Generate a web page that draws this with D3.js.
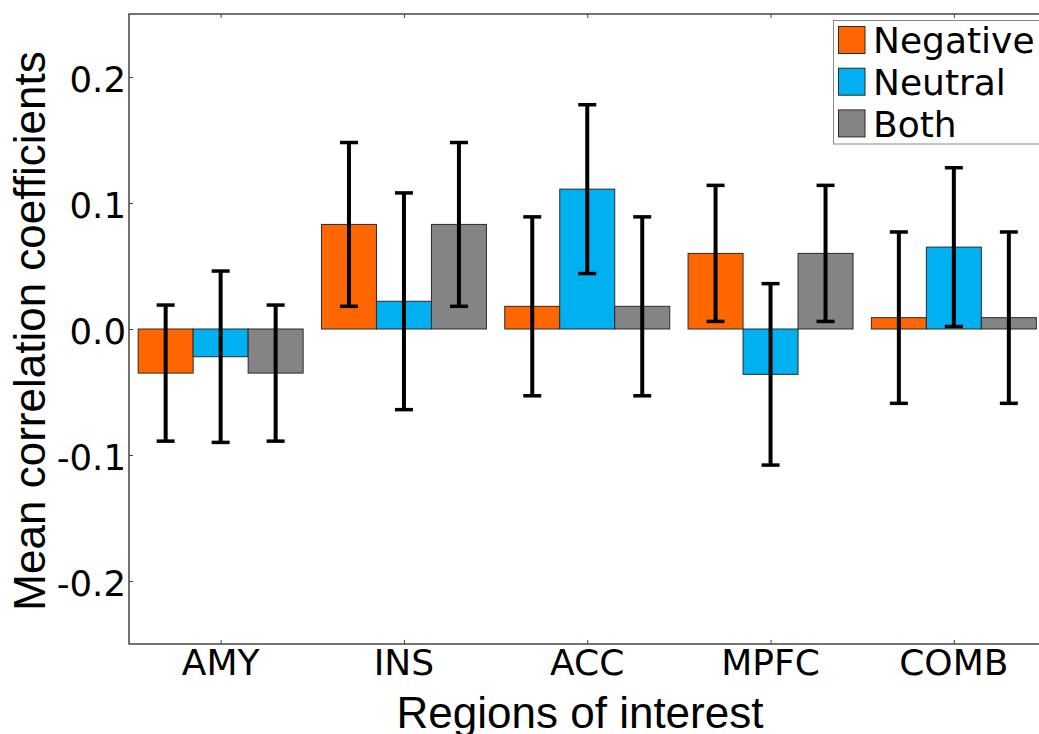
<!DOCTYPE html>
<html>
<head>
<meta charset="utf-8">
<script src="https://cdn.jsdelivr.net/npm/d3@7"></script>
<style>
  html, body { margin: 0; padding: 0; background: #fff; overflow: hidden; }
  svg { display: block; }
</style>
</head>
<body>
<svg id="chart" width="1039" height="734"></svg>
<script>
// Regions of interest and condition series
const regions = ["AMY", "INS", "ACC", "MPFC", "COMB"];
const seriesNames = ["Negative", "Neutral", "Both"];
const seriesColors = ["#FF6600", "#00B0F0", "#848484"];

// Mean correlation coefficient per region, one array per condition
const negativeMean = [-0.035, 0.083, 0.018, 0.060, 0.009];
const neutralMean  = [-0.022, 0.022, 0.111, -0.036, 0.065];
const bothMean     = [-0.035, 0.083, 0.018, 0.060, 0.009];

// Half-width of the error interval per region
const negativeErr = [0.054, 0.065, 0.071, 0.054, 0.068];
const neutralErr  = [0.068, 0.086, 0.067, 0.072, 0.063];
const bothErr     = [0.054, 0.065, 0.071, 0.054, 0.068];

const yTicks = [0.2, 0.1, 0.0, -0.1, -0.2];
const yTickLabels = ["0.2", "0.1", "0.0", "-0.1", "-0.2"];

const means = [negativeMean, neutralMean, bothMean];
const errs = [negativeErr, neutralErr, bothErr];

const svg = d3.select("#chart");
const plotLeft = 129, plotTop = 14, plotBottom = 644;
const step = 183.3;
const plotRight = plotLeft + step * regions.length;

// Category axis: each region occupies one unit, bars take 0.3 unit each
const x = d3.scaleLinear().domain([-0.5, regions.length - 0.5]).range([plotLeft, plotRight]);
const y = d3.scaleLinear().domain([-0.25, 0.25]).range([plotBottom, plotTop]);
const barW = 0.3;

const bars = [];
const errBars = [];
seriesNames.forEach((name, s) => {
  regions.forEach((r, i) => {
    const cx = i + (s - 1) * barW;
    bars.push({ s, i, x0: cx - barW / 2, x1: cx + barW / 2, v: means[s][i] });
    errBars.push({ s, i, cx, v: means[s][i], e: errs[s][i] });
  });
});

const plot = svg.append("g");

plot.selectAll("rect.bar").data(bars).enter().append("rect")
  .attr("class", "bar")
  .attr("x", d => x(d.x0))
  .attr("width", d => x(d.x1) - x(d.x0))
  .attr("y", d => y(Math.max(0, d.v)))
  .attr("height", d => Math.abs(y(d.v) - y(0)))
  .attr("fill", d => seriesColors[d.s])
  .attr("stroke", "#2b2b2b")
  .attr("stroke-width", 1);

// Error bars with caps
const capHalf = 9;
const eb = plot.selectAll("g.err").data(errBars).enter().append("g").attr("class", "err");
eb.append("line")
  .attr("x1", d => x(d.cx)).attr("x2", d => x(d.cx))
  .attr("y1", d => y(d.v + d.e)).attr("y2", d => y(d.v - d.e))
  .attr("stroke", "#000").attr("stroke-width", 4);
eb.append("line")
  .attr("x1", d => x(d.cx) - capHalf).attr("x2", d => x(d.cx) + capHalf)
  .attr("y1", d => y(d.v + d.e)).attr("y2", d => y(d.v + d.e))
  .attr("stroke", "#000").attr("stroke-width", 3.5);
eb.append("line")
  .attr("x1", d => x(d.cx) - capHalf).attr("x2", d => x(d.cx) + capHalf)
  .attr("y1", d => y(d.v - d.e)).attr("y2", d => y(d.v - d.e))
  .attr("stroke", "#000").attr("stroke-width", 3.5);

// Frame
const frameColor = "#444";
svg.append("rect")
  .attr("x", plotLeft).attr("y", plotTop)
  .attr("width", plotRight - plotLeft).attr("height", plotBottom - plotTop)
  .attr("fill", "none").attr("stroke", frameColor).attr("stroke-width", 1.5);

// Inward tick marks on all sides
const tickLen = 4;
const yAxisL = d3.axisLeft(y).tickValues(yTicks).tickSizeInner(-tickLen).tickSizeOuter(0).tickFormat("");
const yAxisR = d3.axisRight(y).tickValues(yTicks).tickSizeInner(-tickLen).tickSizeOuter(0).tickFormat("");
const xAxisB = d3.axisBottom(x).tickValues(d3.range(regions.length)).tickSizeInner(-tickLen).tickSizeOuter(0).tickFormat("");
const xAxisT = d3.axisTop(x).tickValues(d3.range(regions.length)).tickSizeInner(-tickLen).tickSizeOuter(0).tickFormat("");

[[yAxisL, `translate(${plotLeft},0)`], [yAxisR, `translate(${plotRight},0)`],
 [xAxisB, `translate(0,${plotBottom})`], [xAxisT, `translate(0,${plotTop})`]].forEach(([ax, tr]) => {
  const g = svg.append("g").attr("transform", tr).call(ax);
  g.select(".domain").remove();
  g.selectAll(".tick line").attr("stroke", frameColor).attr("stroke-width", 1);
});

// Tick labels
const tickFont = "'DejaVu Sans', sans-serif";
svg.append("g").selectAll("text").data(yTicks).enter().append("text")
  .attr("x", plotLeft - 3)
  .attr("y", d => y(d) + 14.5)
  .attr("text-anchor", "end")
  .attr("font-family", tickFont).attr("font-size", 35.5)
  .attr("fill", "#000")
  .text((d, i) => yTickLabels[i]);

svg.append("g").selectAll("text").data(regions).enter().append("text")
  .attr("x", (d, i) => x(i))
  .attr("y", 675)
  .attr("text-anchor", "middle")
  .attr("font-family", tickFont).attr("font-size", 36)
  .attr("fill", "#000")
  .text(d => d);

// Axis titles
const titleFont = "'Liberation Sans', Arial, sans-serif";
svg.append("text")
  .attr("x", 580)
  .attr("y", 728)
  .attr("text-anchor", "middle")
  .attr("font-family", titleFont).attr("font-size", 44)
  .attr("fill", "#000")
  .text("Regions of interest");

svg.append("text")
  .attr("transform", `translate(45,${331}) rotate(-90)`)
  .attr("text-anchor", "middle")
  .attr("font-family", titleFont).attr("font-size", 44)
  .attr("fill", "#000")
  .text("Mean correlation coefficients");

// Legend
const legend = svg.append("g");
legend.append("rect")
  .attr("x", 833.5).attr("y", 20.5)
  .attr("width", 240).attr("height", 123.5)
  .attr("fill", "#fff").attr("stroke", "#888").attr("stroke-width", 1);
const rowStep = 41.7;
seriesNames.forEach((name, s) => {
  legend.append("rect")
    .attr("x", 838.5).attr("y", 26.5 + s * rowStep)
    .attr("width", 26.5).attr("height", 27)
    .attr("fill", seriesColors[s]).attr("stroke", "#2b2b2b").attr("stroke-width", 1);
  legend.append("text")
    .attr("x", 873).attr("y", 53.3 + s * rowStep)
    .attr("font-family", tickFont).attr("font-size", 36)
    .attr("fill", "#000")
    .text(name);
});
</script>
</body>
</html>
